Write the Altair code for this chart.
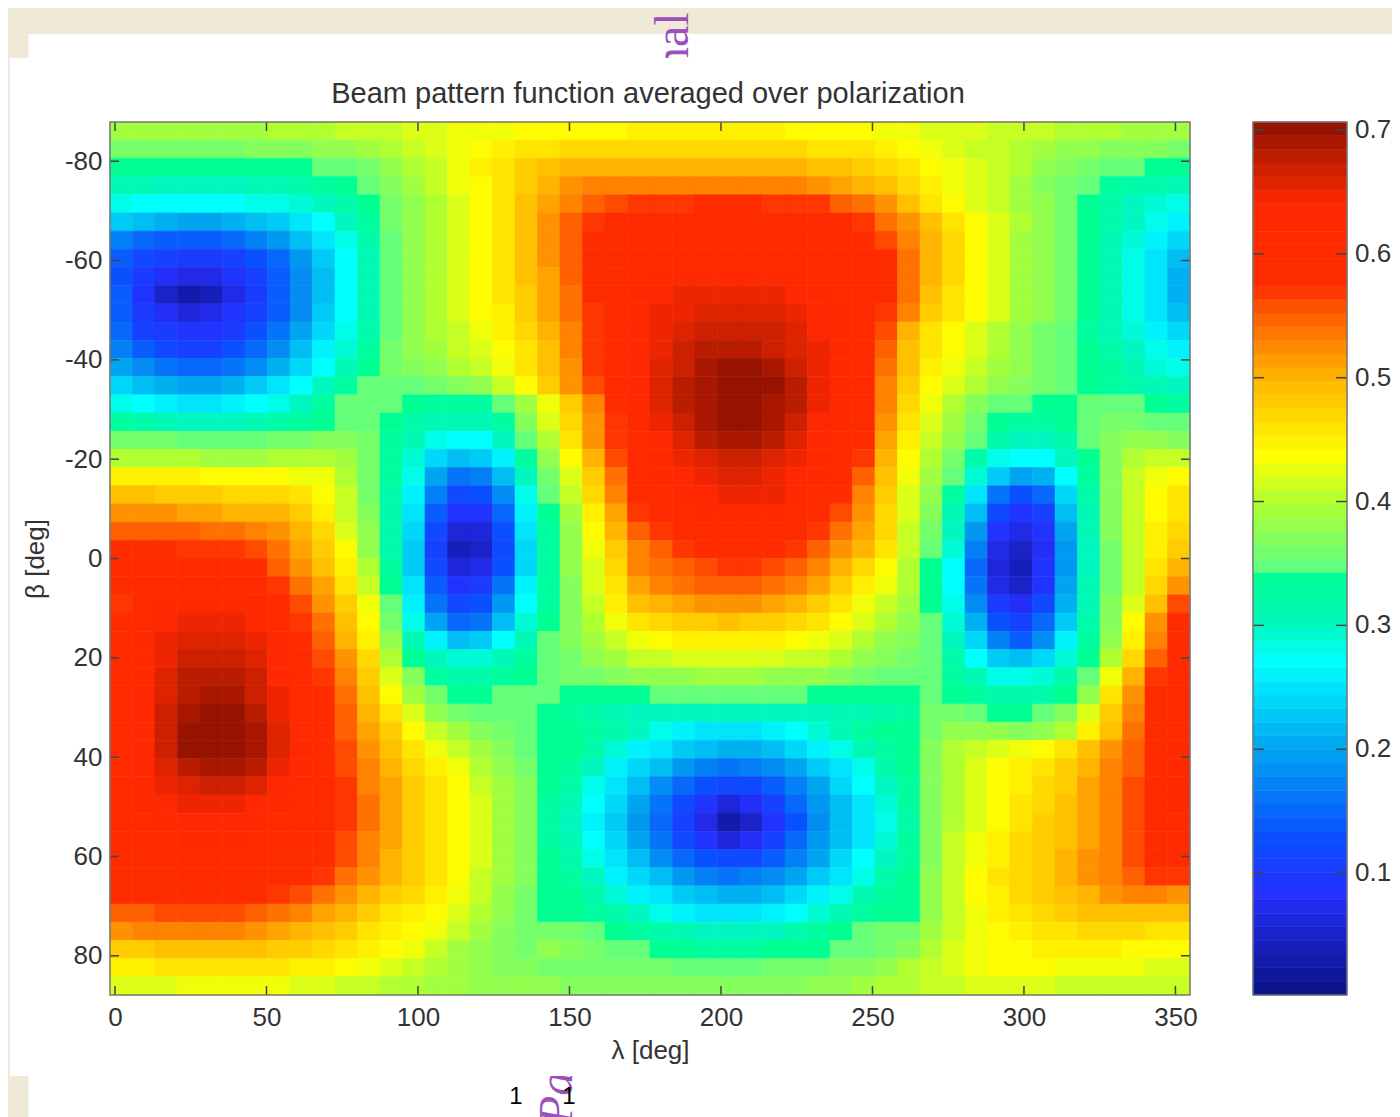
import altair as alt
import pandas as pd

row_00 = [39,39,39,39,39,39,39,40,40,40,41,41,41,42,42,43,43,43,44,44,44,44,44,45,45,45,45,45,45,45,44,44,44,44,43,43,42,42,42,41,41,41,40,40,40,39,39,39]
row_01 = [36,36,36,36,36,36,37,37,37,38,38,39,40,41,42,43,44,45,46,46,47,47,47,47,47,47,47,47,47,47,47,46,46,46,45,44,43,42,41,41,40,39,38,38,37,37,37,36]
row_02 = [34,34,34,34,34,34,34,34,34,35,35,36,38,40,41,43,45,46,48,49,50,50,50,50,50,50,50,50,50,50,50,49,49,48,47,46,44,43,42,41,40,38,37,36,35,35,34,34]
row_03 = [31,31,30,30,30,30,31,31,32,33,34,35,37,39,41,43,44,46,48,50,52,53,53,53,53,53,53,53,53,53,53,52,51,50,49,47,45,43,42,41,39,37,36,35,33,32,32,31]
row_04 = [28,27,27,27,27,27,28,28,29,30,32,34,36,38,40,42,44,46,49,51,53,55,56,57,57,57,58,58,58,57,57,57,55,54,52,49,46,44,42,41,39,38,36,34,32,30,29,28]
row_05 = [23,22,21,20,20,21,22,23,25,27,30,33,36,38,40,42,44,46,49,52,55,57,59,60,60,60,60,60,60,60,60,59,59,57,54,52,49,46,44,42,40,38,36,34,32,30,28,26]
row_06 = [17,15,14,14,14,15,17,19,22,25,28,32,35,38,40,42,44,46,49,52,55,58,59,60,61,61,61,61,61,61,60,60,60,58,56,53,50,47,44,42,39,38,36,34,31,29,26,24]
row_07 = [14,12,11,10,10,11,13,15,19,23,27,31,35,38,40,42,44,46,49,52,55,58,59,60,60,61,61,61,61,61,61,60,60,60,58,54,50,47,44,42,39,38,36,34,31,28,25,22]
row_08 = [13,10,8,7,7,9,11,14,18,22,27,31,35,38,40,42,44,46,49,51,55,58,59,61,62,63,63,64,64,63,62,61,60,60,58,54,50,47,44,42,39,38,36,34,31,28,25,21]
row_09 = [14,9,5,3,4,7,10,14,18,22,27,31,35,38,40,42,44,46,48,51,54,58,60,62,64,65,65,65,65,65,64,63,61,60,58,54,49,46,44,42,39,38,36,34,31,28,25,21]
row_10 = [14,10,8,6,7,9,11,14,18,23,27,31,35,38,40,42,44,45,48,51,54,57,60,63,65,65,66,66,66,66,65,64,62,60,57,53,48,46,44,42,39,38,36,34,31,28,25,22]
row_11 = [15,11,10,9,9,10,13,16,20,24,28,32,35,38,40,41,43,45,47,50,53,57,60,64,65,66,67,67,67,67,66,64,62,60,56,50,46,44,42,40,38,36,35,33,31,29,26,24]
row_12 = [17,14,12,11,11,13,15,18,22,26,29,33,36,38,39,41,42,44,46,49,53,57,60,64,65,67,68,68,68,67,66,65,62,60,55,49,46,44,42,40,38,36,35,34,32,30,28,26]
row_13 = [20,18,16,15,15,16,18,21,24,27,31,34,36,37,38,40,41,43,46,49,52,57,60,64,66,67,69,70,70,69,67,65,62,60,54,49,45,43,41,39,38,36,35,34,33,31,29,28]
row_14 = [24,22,21,20,20,21,23,25,27,30,33,35,35,35,36,37,38,41,44,48,52,56,60,64,66,68,69,70,70,70,68,65,62,60,53,48,44,42,40,38,37,36,35,34,33,32,31,30]
row_15 = [28,27,26,25,25,26,27,28,30,33,35,35,35,34,33,33,33,35,39,43,48,53,58,63,66,68,69,70,70,69,68,65,62,59,53,47,43,40,37,35,35,34,34,35,35,35,34,33]
row_16 = [33,32,31,30,30,30,31,32,33,34,35,35,34,32,31,31,31,33,37,42,47,52,57,62,65,67,69,70,70,69,67,64,62,59,52,46,42,39,36,34,33,33,34,35,36,36,35,35]
row_17 = [36,36,36,35,35,35,35,36,36,37,37,36,33,31,28,27,27,30,35,40,46,52,57,61,64,66,68,69,69,68,66,64,61,58,51,45,41,38,35,32,30,30,32,35,37,38,38,37]
row_18 = [40,40,40,40,39,39,39,40,40,40,39,36,33,29,24,22,23,26,33,38,44,50,56,60,63,65,66,67,67,66,65,63,60,57,50,44,40,36,32,28,27,27,30,34,37,40,41,41]
row_19 = [45,45,45,45,44,44,44,44,43,43,40,36,33,28,20,16,17,22,30,36,42,48,54,60,62,64,65,66,66,65,64,62,60,55,49,43,39,35,29,23,20,21,27,33,37,41,43,44]
row_20 = [49,49,48,48,48,47,47,47,46,44,41,36,32,26,17,12,13,18,28,35,41,47,53,59,61,63,64,65,65,65,63,61,58,53,48,42,38,33,25,16,13,15,24,32,37,41,44,46]
row_21 = [52,52,52,51,51,50,50,50,48,45,41,37,32,25,14,9,9,15,26,34,39,45,51,57,60,61,62,63,63,62,60,59,56,52,47,42,37,31,22,12,9,11,22,31,37,41,44,46]
row_22 = [55,55,55,55,54,54,53,52,50,47,42,38,32,24,12,6,6,13,25,33,38,44,50,55,57,59,60,60,61,60,59,57,54,51,47,41,36,30,19,9,7,9,20,31,37,41,45,47]
row_23 = [58,58,58,57,57,57,56,54,51,48,44,38,32,23,11,4,5,12,24,33,38,43,48,53,55,57,58,59,59,58,57,55,52,50,46,41,35,29,17,7,5,8,19,30,36,41,45,48]
row_24 = [59,60,60,60,60,59,58,55,52,49,45,40,33,23,12,6,7,13,24,33,38,42,47,53,54,55,56,57,57,56,55,53,50,47,44,40,34,27,15,6,4,9,19,30,36,41,46,50]
row_25 = [58,60,60,61,61,60,59,57,54,51,46,41,34,25,14,9,10,16,26,33,37,42,46,51,53,54,55,55,55,54,53,51,48,45,43,40,34,27,16,7,5,9,20,31,36,41,47,52]
row_26 = [57,60,62,63,63,63,62,60,56,52,48,43,35,26,16,12,13,19,27,33,37,41,45,49,50,51,52,52,52,51,50,48,46,43,41,39,34,28,18,10,8,12,21,31,37,42,49,56]
row_27 = [58,61,64,65,65,65,63,61,57,54,49,44,36,28,20,15,16,22,29,34,37,40,43,46,47,48,48,49,48,48,47,46,44,42,40,38,35,29,21,13,11,15,23,32,37,44,52,58]
row_28 = [59,62,65,66,66,66,65,62,58,55,50,45,38,31,26,22,23,27,31,35,37,39,41,43,44,45,45,45,45,45,44,43,42,40,38,37,35,30,24,17,14,18,26,33,38,45,53,59]
row_29 = [60,63,65,67,67,67,66,64,59,56,52,47,40,34,30,29,29,31,33,35,36,38,39,41,41,42,42,42,42,42,41,41,40,38,37,36,35,32,27,23,22,24,29,34,40,47,55,60]
row_30 = [60,63,66,68,68,68,67,64,60,57,53,48,42,37,33,32,32,33,34,35,36,36,37,38,38,38,39,39,39,38,38,38,37,36,35,35,35,33,31,28,28,29,32,35,43,50,57,60]
row_31 = [60,64,66,68,69,69,67,65,61,58,54,49,44,39,36,34,34,35,35,35,34,34,34,34,35,35,35,35,35,35,35,34,34,34,34,34,35,34,33,32,32,32,34,38,46,52,59,60]
row_32 = [61,64,67,69,70,70,68,65,61,58,55,50,46,42,38,36,35,35,35,34,33,32,31,30,30,30,30,30,30,30,30,30,31,31,32,33,36,36,35,34,34,35,37,42,48,53,59,61]
row_33 = [61,64,67,70,70,70,69,66,61,59,55,51,48,44,41,39,37,36,35,34,34,33,32,30,28,26,25,25,25,26,27,29,31,33,34,34,36,38,38,38,37,38,40,45,49,54,59,61]
row_34 = [61,64,67,70,70,70,69,66,62,59,56,52,49,46,43,41,39,37,35,34,34,32,29,26,25,23,22,21,21,22,24,26,28,31,33,34,37,40,41,42,43,44,46,49,52,55,59,62]
row_35 = [60,64,66,68,69,69,68,65,62,60,56,53,50,47,45,43,40,38,36,34,33,30,26,24,22,19,17,16,17,18,20,23,25,28,32,34,37,40,42,44,45,46,48,50,53,55,60,62]
row_36 = [60,63,65,66,67,67,66,64,61,60,57,53,51,48,46,44,41,39,37,34,32,28,25,22,18,15,13,12,12,14,17,20,24,27,30,33,37,40,42,44,45,47,48,51,53,56,60,62]
row_37 = [60,62,64,65,65,65,64,63,60,59,57,54,51,48,46,44,42,39,37,33,31,27,24,20,16,12,9,6,8,11,15,19,22,25,29,33,37,40,42,44,46,47,49,51,53,56,60,62]
row_38 = [60,61,63,64,64,64,63,61,60,59,57,54,51,48,46,44,42,39,37,33,30,26,23,19,15,11,7,3,5,9,13,18,22,25,28,32,37,40,42,44,46,48,49,51,53,56,60,61]
row_39 = [60,60,61,62,62,62,61,60,60,58,56,53,51,48,46,44,42,39,37,33,31,27,24,20,16,12,9,6,8,11,15,19,22,25,29,33,37,41,43,45,47,48,49,51,53,56,59,60]
row_40 = [59,59,60,60,60,60,60,59,59,58,56,53,50,48,46,44,42,39,37,34,32,28,25,22,18,15,13,12,12,14,17,20,24,27,30,33,37,41,43,45,47,48,50,52,53,56,59,59]
row_41 = [59,59,59,60,60,60,59,59,58,57,54,52,50,48,46,44,41,39,37,34,33,30,26,24,22,19,17,16,17,18,20,23,25,28,32,34,38,41,44,46,47,48,50,52,53,55,57,57]
row_42 = [58,58,58,58,58,58,58,57,56,54,52,50,48,47,45,43,41,38,36,34,34,32,29,26,25,23,22,21,21,22,24,26,28,31,33,34,38,41,44,45,47,48,49,50,52,53,53,52]
row_43 = [55,55,56,56,56,56,55,54,53,51,50,48,46,45,44,42,40,38,36,34,34,33,32,30,28,26,25,25,25,26,27,29,31,33,34,34,38,41,43,45,46,47,48,49,49,49,49,49]
row_44 = [52,53,53,53,53,53,52,51,50,49,48,46,45,44,43,41,39,37,36,36,36,35,34,33,32,31,30,30,30,30,32,33,34,35,36,36,39,41,43,44,45,46,46,47,47,47,46,46]
row_45 = [48,48,49,49,49,49,49,48,48,47,46,45,44,43,41,39,38,37,36,38,37,36,35,35,34,34,33,33,33,34,34,34,35,35,36,37,40,42,43,44,44,45,45,45,45,44,44,44]
row_46 = [45,45,46,46,46,46,46,46,45,45,44,43,42,41,40,39,38,37,37,36,36,36,36,36,36,35,35,35,35,36,36,36,37,37,38,40,41,42,43,44,44,44,43,43,43,43,42,42]
row_47 = [42,42,42,43,43,43,43,43,42,42,41,41,40,40,39,39,38,38,38,38,37,37,37,37,37,37,37,37,37,37,37,38,38,39,40,40,41,41,42,42,42,42,41,41,41,41,41,41]

rows = [row_00,row_01,row_02,row_03,row_04,row_05,row_06,row_07,row_08,row_09,row_10,row_11,
        row_12,row_13,row_14,row_15,row_16,row_17,row_18,row_19,row_20,row_21,row_22,row_23,
        row_24,row_25,row_26,row_27,row_28,row_29,row_30,row_31,row_32,row_33,row_34,row_35,
        row_36,row_37,row_38,row_39,row_40,row_41,row_42,row_43,row_44,row_45,row_46,row_47]

x_ticks = [0, 50, 100, 150, 200, 250, 300, 350]
y_ticks = [-80, -60, -40, -20, 0, 20, 40, 60, 80]
cb_ticks = [0.1, 0.2, 0.3, 0.4, 0.5, 0.6, 0.7]
cb_labels = ["0.1", "0.2", "0.3", "0.4", "0.5", "0.6", "0.7"]
color_stops = [0.0015, 0.05, 0.085, 0.13, 0.20, 0.27, 0.30, 0.343, 0.346, 0.40, 0.437, 0.50, 0.55, 0.575, 0.64, 0.67, 0.7065]
color_hexes = ["#0a1285", "#1a22c8", "#2430ff", "#0a50ff", "#00a4f0", "#00ffff", "#00f8c0", "#00ff90",
               "#60ff80", "#b0ff30", "#ffff00", "#ffb400", "#ff6000", "#ff2c00", "#ff2800", "#cc2000", "#8c1000"]

X_DOM = [-1.65, 354.8]
Y_DOM = [-87.9, 87.9]
CB_DOM = [0.0015, 0.7065]
FONT = "Liberation Sans"
TXT = "#333333"
N_COLS, N_ROWS = len(row_00), len(rows)
dx = (X_DOM[1] - X_DOM[0]) / N_COLS
dy = (Y_DOM[1] - Y_DOM[0]) / N_ROWS

cells = pd.DataFrame([
    {"l0": X_DOM[0] + i * dx, "l1": X_DOM[0] + (i + 1) * dx,
     "b0": Y_DOM[0] + k * dy, "b1": Y_DOM[0] + (k + 1) * dy, "v": val / 100}
    for k, r in enumerate(rows) for i, val in enumerate(r)
])
N_LEVELS = 64
dv = (CB_DOM[1] - CB_DOM[0]) / N_LEVELS
levels = pd.DataFrame([
    {"lo": CB_DOM[0] + j * dv, "hi": CB_DOM[0] + (j + 1) * dv, "v": CB_DOM[0] + (j + .5) * dv}
    for j in range(N_LEVELS)
])

cscale = alt.Scale(domain=color_stops, range=color_hexes, interpolate="rgb")
xs = alt.Scale(domain=X_DOM, nice=False, zero=False)
ys = alt.Scale(domain=Y_DOM, reverse=True, nice=False, zero=False)
cs = alt.Scale(domain=CB_DOM, nice=False, zero=False)
one = alt.Data(values=[{"a": 1}])


def panel(x0, x1, y0, y1):
    return alt.Chart(one).mark_rect(color="white").encode(
        x=alt.value(x0), x2=alt.value(x1), y=alt.value(y0), y2=alt.value(y1))


def stray(text, x, y, italic):
    return alt.Chart(one).mark_text(
        text=text, font="Liberation Serif", fontSize=48, color="#9a50bd", angle=270,
        align="left", baseline="alphabetic", fontStyle="italic" if italic else "normal"
    ).encode(x=alt.value(x), y=alt.value(y))


heat = alt.Chart(cells).mark_rect(strokeWidth=0.6).encode(
    x=alt.X("l0:Q", scale=xs, axis=alt.Axis(
        values=x_ticks, tickSize=0, domain=False, grid=False, labelFont=FONT, labelFontSize=26,
        labelColor=TXT, labelPadding=9, labelAngle=0, labelFlush=False, labelOverlap=False,
        title="λ [deg]", titleFont=FONT, titleFontSize=26, titleFontWeight="normal", titleColor=TXT,
        titlePadding=7, zindex=1)),
    x2="l1:Q",
    y=alt.Y("b0:Q", scale=ys, axis=alt.Axis(
        values=y_ticks, tickSize=0, domain=False, grid=False, labelFont=FONT, labelFontSize=26,
        labelColor=TXT, labelPadding=8, labelExpr="'' + datum.value", labelOverlap=False,
        title="β [deg]", titleFont=FONT, titleFontSize=26, titleFontWeight="normal", titleColor=TXT,
        titlePadding=16, zindex=1)),
    y2="b1:Q",
    color=alt.Color("v:Q", scale=cscale, legend=None),
    stroke=alt.Stroke("v:Q", scale=cscale, legend=None),
)

TICK = "#444444"
xdf = pd.DataFrame({"t": x_ticks})
ydf = pd.DataFrame({"t": y_ticks})
cdf = pd.DataFrame({"t": cb_ticks, "s": cb_labels})


def xtick(y0, y1):
    return alt.Chart(xdf).mark_rule(color=TICK, strokeWidth=1.5).encode(
        x=alt.X("t:Q", scale=xs, axis=None), y=alt.value(y0), y2=alt.value(y1))


def ytick(x0, x1):
    return alt.Chart(ydf).mark_rule(color=TICK, strokeWidth=1.5).encode(
        y=alt.Y("t:Q", scale=ys, axis=None), x=alt.value(x0), x2=alt.value(x1))


def ctick(x0, x1):
    return alt.Chart(cdf).mark_rule(color=TICK, strokeWidth=1.5).encode(
        y=alt.Y("t:Q", scale=cs, axis=None), x=alt.value(x0), x2=alt.value(x1))


def frame(x0, x1):
    return alt.Chart(one).mark_rect(fillOpacity=0, stroke="#777777", strokeWidth=1.5).encode(
        x=alt.value(x0), x2=alt.value(x1), y=alt.value(0), y2=alt.value(873))


bar = alt.Chart(levels).mark_rect(strokeWidth=0.6).encode(
    x=alt.value(1143), x2=alt.value(1237),
    y=alt.Y("lo:Q", scale=cs, axis=None), y2="hi:Q",
    color=alt.Color("v:Q", scale=cscale, legend=None),
    stroke=alt.Stroke("v:Q", scale=cscale, legend=None),
)
bar_text = alt.Chart(cdf).mark_text(
    font=FONT, fontSize=26, color=TXT, align="left", baseline="middle"
).encode(x=alt.value(1245), y=alt.Y("t:Q", scale=cs, axis=None), text="s:N")

title_text = alt.Chart(one).mark_text(
    text="Beam pattern function averaged over polarization", font=FONT, fontSize=29,
    color=TXT, align="center", baseline="middle"
).encode(x=alt.value(538), y=alt.value(-28))

chart = alt.layer(
    panel(-81.5, 1282, -88, 995),
    stray("nal", 578, -51, False),
    stray("Pa", 462, 1003, True),
    panel(-100, 1282, -64, 954),
    title_text,
    heat,
    xtick(873, 864), xtick(0, 9), ytick(0, 9), ytick(1071, 1080),
    frame(0, 1080),
    bar,
    ctick(1143, 1154), ctick(1226, 1237),
    frame(1143, 1237),
    bar_text,
    alt.Chart(one).mark_text(text="1", font=FONT, fontSize=24, color="black", baseline="middle").encode(
        x=alt.value(406), y=alt.value(975)),
    alt.Chart(one).mark_text(text="1", font=FONT, fontSize=24, color="black", baseline="middle").encode(
        x=alt.value(459), y=alt.value(975)),
).resolve_scale(x="independent", y="independent").properties(
    width=1080, height=873,
    background="#f1e9d8",
    padding={"left": 102, "top": 114, "right": 202, "bottom": 122},
    autosize=alt.AutoSizeParams(type="none"),
).configure_view(stroke=None)

chart.save("out.html", embed_options={"renderer": "svg", "actions": False})
